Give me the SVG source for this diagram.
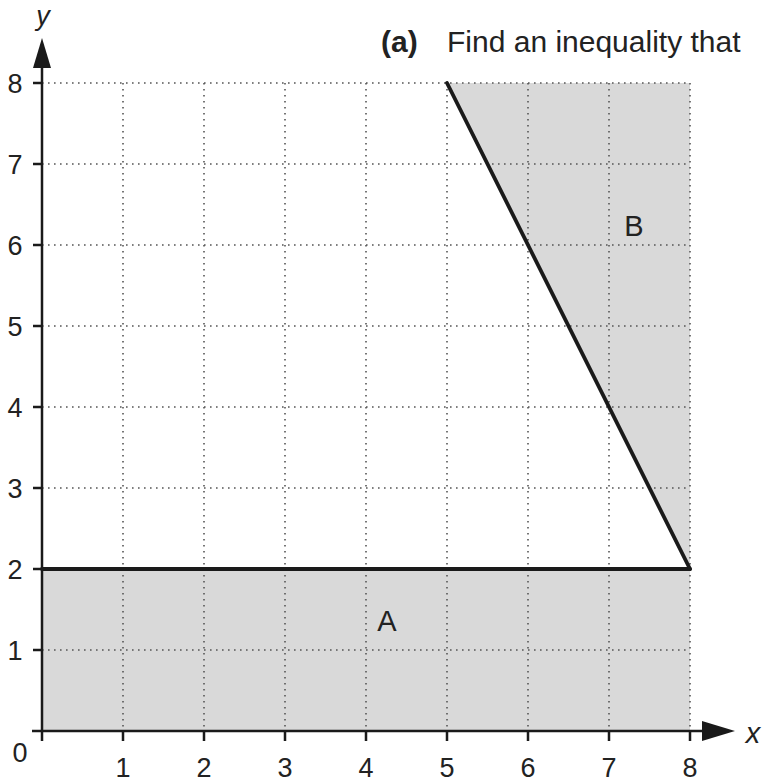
<svg xmlns="http://www.w3.org/2000/svg" width="763" height="782" viewBox="0 0 763 782">
<style>
text{font-family:"Liberation Sans",Arial,sans-serif;fill:#222}
.num{font-size:27px;text-anchor:middle}
.grid{stroke:#555;stroke-width:1.6;stroke-dasharray:1.6 4.4;fill:none}
.axis{stroke:#1a1a1a;stroke-width:2.5;fill:none}
.thick{stroke:#1a1a1a;stroke-width:3.8;fill:none;stroke-linecap:round}
.shade{fill:#d9d9d9}
</style>
<rect width="763" height="782" fill="#fff"/>
<g id="regions">
<rect class="shade" x="42" y="569" width="648" height="162"/>
<polygon class="shade" points="447,83 690,83 690,569"/>
</g>
<g id="grid">
<path class="grid" d="M123,83V731M204,83V731M285,83V731M366,83V731M447,83V731M528,83V731M609,83V731M690,83V731"/>
<path class="grid" d="M42,83H690M42,164H690M42,245H690M42,326H690M42,407H690M42,488H690M42,650H690"/>
</g>
<g id="axes">
<line class="axis" x1="32" y1="731" x2="706" y2="731"/>
<line class="axis" x1="42" y1="741" x2="42" y2="66"/>
<polygon points="702,721 735,731 702,741" fill="#1a1a1a"/>
<polygon points="33,68 42,38 51,68" fill="#1a1a1a"/>
<path class="axis" d="M123,731v10M204,731v10M285,731v10M366,731v10M447,731v10M528,731v10M609,731v10M690,731v10"/>
<path class="axis" d="M33,83h9M33,164h9M33,245h9M33,326h9M33,407h9M33,488h9M33,569h9M33,650h9"/>
</g>
<g id="connectors">
<line class="thick" x1="42" y1="569" x2="690" y2="569"/>
<line class="thick" x1="447" y1="83" x2="690" y2="569"/>
</g>
<g id="labels">
<text class="num" x="20" y="762">0</text>
<text class="num" x="123" y="777">1</text>
<text class="num" x="204" y="777">2</text>
<text class="num" x="285" y="777">3</text>
<text class="num" x="366" y="777">4</text>
<text class="num" x="447" y="777">5</text>
<text class="num" x="528" y="777">6</text>
<text class="num" x="609" y="777">7</text>
<text class="num" x="690" y="777">8</text>
<text class="num" x="15" y="660">1</text>
<text class="num" x="15" y="579">2</text>
<text class="num" x="15" y="498">3</text>
<text class="num" x="15" y="417">4</text>
<text class="num" x="15" y="336">5</text>
<text class="num" x="15" y="255">6</text>
<text class="num" x="15" y="174">7</text>
<text class="num" x="15" y="93">8</text>
<text x="43" y="25" font-size="27" font-style="italic" text-anchor="middle">y</text>
<text x="753" y="743" font-size="29" font-style="italic" text-anchor="middle">x</text>
<text x="387" y="631" font-size="29" text-anchor="middle">A</text>
<text x="634" y="236" font-size="29" text-anchor="middle">B</text>
<text x="381" y="52" font-size="30"><tspan font-weight="bold">(a)</tspan><tspan x="447">Find an inequality that</tspan></text>
</g>
</svg>
